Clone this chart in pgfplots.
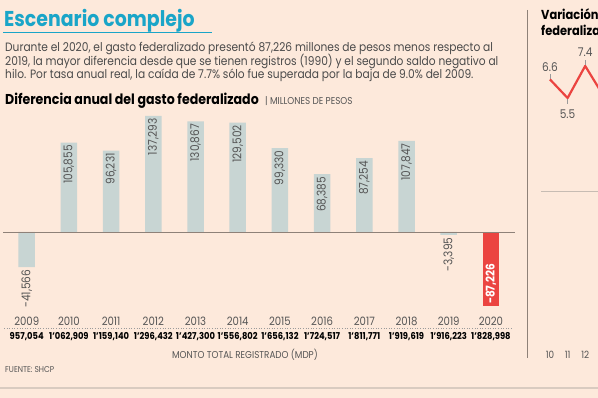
\documentclass[border=0pt]{standalone}
\usepackage{pgfplots}
\pgfplotsset{compat=1.18}
\usepackage{pgfplotstable}
\usepackage{fontspec}
\setmainfont{Poppins}[FakeStretch=0.88]
\definecolor{bg}{HTML}{FDE9DB}
\definecolor{teal}{HTML}{1AA5C8}
\definecolor{txt}{HTML}{4A4A4A}
\definecolor{gris}{HTML}{C8D5D3}
\definecolor{rojo}{HTML}{EB4440}
\definecolor{lbl}{HTML}{555555}
\definecolor{zline}{HTML}{8E8178}
\definecolor{faint}{HTML}{D9CBC0}
\definecolor{tickgray}{HTML}{9A9A9A}

\pgfplotstableread{
x y lab
0 -41566 -41,566
1 105855 105,855
2 96231 96,231
3 137293 137,293
4 130867 130,867
5 129502 129,502
6 99330 99,330
7 68385 68,385
8 87254 87,254
9 107847 107,847
10 -3395 -3,395
}\grisdata
\pgfplotstableread{
x y lab
11 -87226 -87,226
}\rojodata
\pgfplotstableread{
x y
10 6.6
11 5.5
12 7.4
13 5.7
}\vardata
\pgfplotstableread{
x y lab d
10 6.6 6.6 12
11 5.5 5.5 -16
12 7.4 7.4 14
}\varlabels

\begin{document}
\begin{tikzpicture}[x=1pt,y=1pt]
\useasboundingbox (0,0) rectangle (598,398);
\clip (0,0) rectangle (598,398);
\fill[bg] (0,0) rectangle (598,398);

% header
\node[anchor=base west, inner sep=0, font=\fontsize{21.5}{24}\selectfont\bfseries, text=teal] at (4,371) {Escenario complejo};
\draw[teal, line width=0.6pt] (3,366) -- (212,366);
\node[anchor=base west, inner sep=0, font=\fontsize{12.1}{14}\selectfont, text=txt] at (5,346) {Durante el 2020, el gasto federalizado presentó 87,226 millones de pesos menos respecto al};
\node[anchor=base west, inner sep=0, font=\fontsize{12.1}{14}\selectfont, text=txt] at (5,332.5) {2019, la mayor diferencia desde que se tienen registros (1990) y el segundo saldo negativo al};
\node[anchor=base west, inner sep=0, font=\fontsize{12.1}{14}\selectfont, text=txt] at (5,319.5) {hilo. Por tasa anual real, la caída de 7.7\% sólo fue superada por la baja de 9.0\% del 2009.};
\node[anchor=base west, inner sep=0, font=\fontsize{14.3}{16}\selectfont\bfseries, text=black] at (5,293) {Diferencia anual del gasto federalizado};
\node[anchor=base west, inner sep=0, font=\fontsize{10}{11}\selectfont, text=lbl] at (265,293) {| MILLONES DE PESOS};

% right panel header
\draw[zline, line width=0.8pt] (527.5,388) -- (527.5,40.3);
\node[anchor=base west, inner sep=0, font=\fontsize{13}{15}\selectfont\bfseries, text=black] at (541,378) {Variación anual del gasto};
\node[anchor=base west, inner sep=0, font=\fontsize{13}{15}\selectfont\bfseries, text=black] at (541,362) {federalizado (\%)};

% main chart
\begin{axis}[at={(3.5pt,81.5pt)}, anchor=south west, scale only axis,
  width=511.9pt, height=211.3pt, xmin=-0.55, xmax=11.58, ymin=-100000, ymax=150000,
  clip=false, axis line style={draw=none}, major tick length=0pt, ytick=\empty,
  xtick={0,...,11},
  xticklabels={2009,2010,2011,2012,2013,2014,2015,2016,2017,2018,2019,2020},
  xticklabel style={anchor=center, yshift=-5.2pt, inner sep=0pt, font=\fontsize{11.5}{12}\selectfont, text=lbl},
  ybar, bar width=16.5pt, bar shift=0pt]
\addplot[fill=gris, draw=none, nodes near coords, point meta=explicit symbolic,
  every node near coord/.append style={rotate=90, anchor=east, inner sep=2.5pt, font=\fontsize{12}{12}\selectfont, text=lbl}]
  table[x=x, y=y, meta=lab]{\grisdata};
\addplot[fill=rojo, draw=none, nodes near coords, point meta=explicit symbolic,
  every node near coord/.append style={rotate=90, anchor=west, inner sep=1.5pt, font=\fontsize{12}{12}\selectfont\bfseries, text=white}]
  table[x=x, y=y, meta=lab]{\rojodata};
\draw[zline, line width=0.8pt] (axis cs:-0.55,0) -- (axis cs:11.58,0);
\begin{scope}[every node/.style={font=\fontsize{9.5}{10}\selectfont\bfseries, text=black, inner sep=0pt}]
\node[yshift=-20.2pt] at (axis cs:0,-100000) {957,054};
\node[yshift=-20.2pt] at (axis cs:1,-100000) {1'062,909};
\node[yshift=-20.2pt] at (axis cs:2,-100000) {1'159,140};
\node[yshift=-20.2pt] at (axis cs:3,-100000) {1'296,432};
\node[yshift=-20.2pt] at (axis cs:4,-100000) {1'427,300};
\node[yshift=-20.2pt] at (axis cs:5,-100000) {1'556,802};
\node[yshift=-20.2pt] at (axis cs:6,-100000) {1'656,132};
\node[yshift=-20.2pt] at (axis cs:7,-100000) {1'724,517};
\node[yshift=-20.2pt] at (axis cs:8,-100000) {1'811,771};
\node[yshift=-20.2pt] at (axis cs:9,-100000) {1'919,619};
\node[yshift=-20.2pt] at (axis cs:10,-100000) {1'916,223};
\node[yshift=-20.2pt] at (axis cs:11,-100000) {1'828,998};
\end{scope}
\end{axis}

\draw[tickgray, dotted, line width=0.6pt] (4,70) -- (513,70);
\node[font=\fontsize{10}{11}\selectfont, text=lbl, inner sep=0] at (245,43) {MONTO TOTAL REGISTRADO (MDP)};
\node[anchor=west, font=\fontsize{8.5}{9}\selectfont, text=lbl, inner sep=0] at (5,28) {FUENTE: SHCP};
\draw[faint, line width=2pt] (0,10) -- (598,10);

% right chart
\begin{axis}[at={(541.2pt,38pt)}, anchor=south west, scale only axis,
  width=70.4pt, height=304.2pt, xmin=9.5, xmax=13.5, ymin=-10, ymax=8,
  clip=false, axis line style={draw=none}, major tick length=0pt, ytick=\empty,
  xtick={10,11,12,13}, xticklabels={10,11,12,13},
  xticklabel style={anchor=center, yshift=5pt, inner sep=0pt, font=\fontsize{10}{11}\selectfont, text=lbl}]
\draw[faint!80!gray, line width=0.8pt] (axis cs:9.5,0) -- (axis cs:13.5,0);
\addplot[draw=none, mark=none, forget plot, error bars/.cd, y dir=both, y explicit,
  error mark=none, error bar style={draw=tickgray, line width=0.6pt}]
  coordinates {(10,6.6) += (0,0.35) -= (0,0) (11,5.5) += (0,0) -= (0,0.35) (12,7.4) += (0,0.38) -= (0,0)};
\addplot[rojo, line width=2.2pt, line join=round, mark=none]
  table[x=x, y=y]{\vardata};
\addplot[draw=none, mark=none, nodes near coords, point meta=explicit symbolic,
  visualization depends on={\thisrow{d} \as \dd},
  every node near coord/.append style={anchor=center, yshift=\dd pt, inner sep=0pt, font=\fontsize{12}{12}\selectfont, text=lbl}]
  table[x=x, y=y, meta=lab]{\varlabels};
\end{axis}
\end{tikzpicture}
\end{document}
